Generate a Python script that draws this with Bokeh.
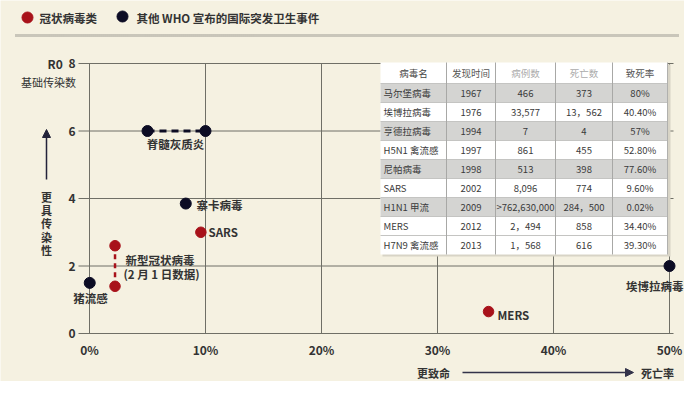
from bokeh.plotting import figure
from bokeh.models import Range1d, Arrow, NormalHead
from bokeh.core.properties import value
from bokeh.embed import file_html
from bokeh.resources import INLINE

# ---------------- data ----------------
x_ticks = [0, 10, 20, 30, 40, 50]
x_tick_labels = ["0%", "10%", "20%", "30%", "40%", "50%"]
y_ticks = [0, 2, 4, 6, 8]
y_tick_labels = ["0", "2", "4", "6", "8"]

# coronaviruses (red)
corona_names = ["新型冠状病毒", "新型冠状病毒", "SARS", "MERS"]
corona_x = [2.2, 2.2, 9.6, 34.4]
corona_y = [1.4, 2.6, 3.0, 0.65]
# other WHO PHEIC events (black)
other_names = ["猪流感", "寨卡病毒", "脊髓灰质炎", "脊髓灰质炎", "埃博拉病毒"]
other_x = [0.02, 8.3, 5.0, 10.0, 50.0]
other_y = [1.5, 3.85, 6.0, 6.0, 2.0]

ncov_x = [2.2, 2.2]
ncov_y = [1.4, 2.6]
polio_x = [5.0, 10.0]
polio_y = [6.0, 6.0]

legend_labels = ["冠状病毒类", "其他 WHO 宣布的国际突发卫生事件"]

table_header = ["病毒名", "发现时间", "病例数", "死亡数", "致死率"]
table_virus = ["马尔堡病毒", "埃博拉病毒", "亨德拉病毒", "H5N1 禽流感", "尼帕病毒",
               "SARS", "H1N1 甲流", "MERS", "H7N9 禽流感"]
table_year = ["1967", "1976", "1994", "1997", "1998", "2002", "2009", "2012", "2013"]
table_cases = ["466", "33,577", "7", "861", "513", "8,096", ">762,630,000", "2，494", "1，568"]
table_deaths = ["373", "13，562", "4", "455", "398", "774", "284，500", "858", "616"]
table_rates = ["80%", "40.40%", "57%", "52.80%", "77.60%", "9.60%", "0.02%", "34.40%", "39.30%"]

# ---------------- styling / layout ----------------
BG = "#f5f1e1"
RED = "#a8121a"
DARK = "#0c0c24"
GRID = "#6f6f66"
TXT = "#2e2e2e"
FONT = "Noto Sans CJK SC"

W, H = 684, 381
# picture pixel -> data helpers
def T(px):
    return (px - 89) / 11.6

def V(py):
    return (333 - py) / 33.75

p = figure(width=W, height=H, output_backend="svg", toolbar_location=None,
           x_range=Range1d(T(0), T(W)), y_range=Range1d(V(H), V(0)),
           x_axis_location=None, y_axis_location=None, min_border=0,
           background_fill_color=BG, border_fill_color=BG, outline_line_color=None)
p.grid.visible = False

def txt(xs, ys, texts, size="11px", color=TXT, align="left", style="normal", font=FONT, lh=1.2):
    p.text(x=xs, y=ys, text=texts, text_font=value(font), text_font_size=value(size),
           text_color=color, text_align=align, text_baseline="middle",
           text_font_style=style, text_line_height=lh)

# legend band
p.scatter(x=[T(27), T(122)], y=[V(17), V(16)], size=11,
          fill_color=[RED, DARK], line_color=[RED, DARK])
txt([T(39), T(136)], [V(17), V(17)], legend_labels, size="11.5px", color="#333333", style="bold")
p.line(x=[T(15), T(678)], y=[V(35), V(35)], line_color="#9c9a92", line_width=3, line_dash="1 1")

# grid lines (from tick lists)
p.segment(x0=x_ticks, y0=[y_ticks[0]] * len(x_ticks), x1=x_ticks, y1=[y_ticks[-1]] * len(x_ticks),
          line_color=GRID, line_width=1)
p.segment(x0=[T(78)] * len(y_ticks), y0=y_ticks, x1=[T(673)] * len(y_ticks), y1=y_ticks,
          line_color=GRID, line_width=1)

# tick labels
txt([T(89 + 11.6 * t) for t in x_ticks], [V(349)] * len(x_ticks), x_tick_labels,
    size="12px", align="center", style="bold", color="#333333")
txt([T(75)] * len(y_ticks), y_ticks, y_tick_labels, size="12px", align="right",
    style="bold", color="#333333")
txt([T(47)], [V(63)], ["R0"], size="12px", color="#333333", style="bold")
txt([T(48)], [V(81)], ["基础传染数"], size="11px", align="center", color="#333333")

# axis titles + arrows
txt([T(46)], [V(223)], ["\n".join("更具传染性")], size="11px", align="center",
    color="#333333", style="bold", lh=0.84)
p.add_layout(Arrow(end=NormalHead(size=8, fill_color="#23233a", line_color="#23233a"),
                   x_start=T(46), y_start=V(179), x_end=T(46), y_end=V(129),
                   line_color="#23233a", line_width=1.5))
txt([T(433)], [V(372)], ["更致命"], size="11px", align="center", color="#333333", style="bold")
txt([T(657)], [V(372)], ["死亡率"], size="11px", align="center", color="#333333", style="bold")
p.add_layout(Arrow(end=NormalHead(size=8, fill_color="#33334a", line_color="#33334a"),
                   x_start=T(462), y_start=V(372), x_end=T(633), y_end=V(372),
                   line_color="#33334a", line_width=1.5))

# ---------------- table ----------------
col_px = [380, 446, 495, 555, 612, 667]
row_px = [62, 83] + [83 + 19 * (i + 1) for i in range(len(table_virus))]
gray_rows = [True, False, True, False, True, False, True, False, False]

# shadow + white base
p.quad(left=[T(col_px[0] + 2)], right=[T(col_px[-1] + 3)], top=[V(row_px[0] + 2)],
       bottom=[V(row_px[-1] + 2)], fill_color="#d8d4c6", line_color=None)
p.quad(left=[T(col_px[0])], right=[T(col_px[-1])], top=[V(row_px[0])],
       bottom=[V(row_px[-1])], fill_color="white", line_color=None)
gl, gr, gt, gb = [], [], [], []
for i, g in enumerate(gray_rows):
    if g:
        gl.append(T(col_px[0])); gr.append(T(col_px[-1]))
        gt.append(V(row_px[i + 1])); gb.append(V(row_px[i + 2]))
p.quad(left=gl, right=gr, top=gt, bottom=gb, fill_color="#d4d4d2", line_color=None)
# horizontal borders
p.segment(x0=[T(col_px[0])] * (len(row_px) - 2), y0=[V(r) for r in row_px[1:-1]],
          x1=[T(col_px[-1])] * (len(row_px) - 2), y1=[V(r) for r in row_px[1:-1]],
          line_color="#c4c4c2", line_width=1)
# vertical borders
p.segment(x0=[T(c) for c in col_px[1:-1]], y0=[V(row_px[0])] * (len(col_px) - 2),
          x1=[T(c) for c in col_px[1:-1]], y1=[V(row_px[-1])] * (len(col_px) - 2),
          line_color="#a8a8a6", line_width=1)
p.segment(x0=[T(col_px[-1])], y0=[V(row_px[0])], x1=[T(col_px[-1])], y1=[V(row_px[-1])],
          line_color="#b0b0ae", line_width=1)

centers = [(col_px[i] + col_px[i + 1]) / 2 for i in range(5)]
head_colors = ["#444444", "#555555", "#ababab", "#ababab", "#555555"]
txt([T(c) for c in centers], [V((row_px[0] + row_px[1]) / 2)] * 5, table_header,
    size="9.5px", align="center", color=head_colors)
ry = [V((row_px[i + 1] + row_px[i + 2]) / 2) for i in range(len(table_virus))]
txt([T(383)] * len(table_virus), ry, table_virus, size="9.5px", color="#3a3a3a")
for ci, col in enumerate([table_year, table_cases, table_deaths, table_rates]):
    txt([T(centers[ci + 1])] * len(col), ry, col, size="9.5px", align="center",
        color="#3a3a3a", font="Noto Sans CJK SC")

# ---------------- data marks ----------------
p.line(x=polio_x, y=polio_y, line_color=DARK, line_width=3, line_dash="7 5")
p.line(x=ncov_x, y=ncov_y, line_color=RED, line_width=2.5, line_dash="5 4")
p.scatter(x=other_x, y=other_y, size=11, fill_color=DARK, line_color=DARK)
p.scatter(x=corona_x, y=corona_y, size=10.5, fill_color=RED, line_color=RED)

# point labels
txt([T(90)], [V(297)], [other_names[0]], size="11.5px", align="center", style="bold", color="#333333")
txt([T(196)], [V(204)], [other_names[1]], size="11.5px", style="bold", color="#333333")
txt([T(175)], [V(143)], [other_names[2]], size="11.5px", align="center", style="bold", color="#333333")
txt([T(683)], [V(285)], [other_names[4]], size="11.5px", align="right", style="bold", color="#333333")
txt([T(125)], [V(259)], [corona_names[0]], size="11.5px", style="bold", color="#333333")
txt([T(123)], [V(273)], ["(2 月 1 日数据)"], size="11.5px", style="bold", color="#333333")
txt([T(208)], [V(231)], [corona_names[2]], size="11.5px", style="bold", color="#333333")
txt([T(497)], [V(314)], [corona_names[3]], size="11.5px", style="bold", color="#333333")

open("out.html", "w").write(file_html(p, INLINE))
